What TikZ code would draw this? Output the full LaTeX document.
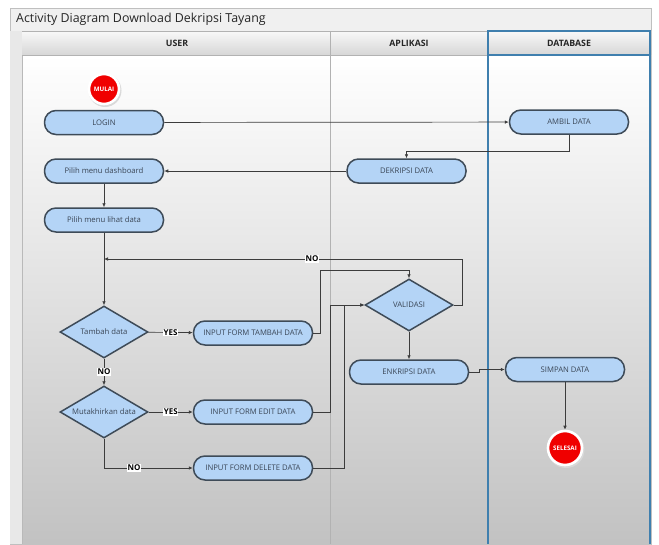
\documentclass[tikz,border=0pt]{standalone}
\usepackage{fontspec}
\setmainfont{Open Sans}
\usetikzlibrary{shapes.geometric,arrows.meta}

\definecolor{nodefill}{HTML}{B4D4F6}
\definecolor{nodeline}{HTML}{3E4B58}
\definecolor{txtc}{HTML}{3A4656}
\definecolor{wire}{HTML}{3C3C3C}
\definecolor{laneblue}{HTML}{3F7FAE}
\definecolor{redc}{HTML}{F00000}

\tikzset{
  act/.style={rectangle, rounded corners=11.5pt, draw=nodeline, line width=1.5pt,
    fill=nodefill, minimum width=119pt, minimum height=24pt, inner sep=1pt,
    font=\fontsize{7.7}{8}\selectfont, text=txtc},
  dec/.style={diamond, draw=nodeline, line width=1.5pt, fill=nodefill,
    minimum width=88pt, minimum height=52pt, inner sep=0pt, aspect=1.7,
    font=\fontsize{7.7}{8}\selectfont, text=txtc},
  term/.style={circle, fill=redc, draw=white, line width=2.6pt, inner sep=0pt,
    text=white, font=\bfseries\fontsize{6.2}{7}\selectfont},
  arr/.style={draw=wire, line width=0.7pt, -{Latex[length=4pt,width=3.6pt]}},
  lbl/.style={fill=white, inner sep=0.6pt, text=black, font=\bfseries\fontsize{8}{9}\selectfont},
  lanehead/.style={font=\bfseries\fontsize{8.8}{9}\selectfont, text=black!85},
}

\begin{document}
\begin{tikzpicture}[x=1pt,y=-1pt]
\useasboundingbox (0,0) rectangle (659,544);
\fill[white] (0,0) rectangle (659,544);

% window frame and title bar
\fill[gray!12] (10,8) rectangle (651,31);
\draw[gray!50, line width=0.6pt] (10,8) rectangle (651,544);
\node[anchor=west, font=\fontsize{12.4}{14}\selectfont, text=black!85, inner sep=0pt] (title) at (16,19.5) {Activity Diagram Download Dekripsi Tayang};

% lane bodies with vertical gradient
\shade[top color=white, bottom color=gray!48] (22,55) rectangle (651,544);
% left strip
\fill[gray!18] (10,31) rectangle (22,544);
\draw[gray!55, line width=0.5pt] (22,31) -- (22,544);

% lane headers
\shade[top color=gray!5, bottom color=gray!32] (22,31) rectangle (651,55);
\draw[gray!60, line width=0.6pt] (22,31) -- (651,31);
\draw[gray!60, line width=0.6pt] (22,55) -- (488,55);
\draw[gray!60, line width=0.6pt] (330,31) -- (330,544);
\draw[laneblue, line width=1.1pt] (488,31) rectangle (650,55);
\draw[laneblue, line width=1.1pt] (488,55) -- (488,544);
\draw[laneblue, line width=1.1pt] (650,55) -- (650,544);

\node[lanehead] (hUser) at (177,43) {USER};
\node[lanehead] (hApp) at (409,43) {APLIKASI};
\node[lanehead] (hDb) at (569,43) {DATABASE};

% activities
\fill[black!15] (105,90.5) circle (16.5);
\node[term, minimum size=30pt] (mulai) at (104,89) {MULAI};
\node[act] (login) at (104,122.5) {LOGIN};
\node[act] (ambil) at (569,122) {AMBIL DATA};
\node[act] (dekripsi) at (406.5,171) {DEKRIPSI DATA};
\node[act] (dash) at (104,171) {Pilih menu dashboard};
\node[act] (lihat) at (104,220) {Pilih menu lihat data};
\node[dec] (tambah) at (104,332) {Tambah data};
\node[act] (inTambah) at (253,333) {INPUT FORM TAMBAH DATA};
\node[dec] (mutakhir) at (104,412) {Mutakhirkan data};
\node[act] (inEdit) at (253,412) {INPUT FORM EDIT DATA};
\node[act] (inDelete) at (253,468) {INPUT FORM DELETE DATA};
\node[dec] (valid) at (409,305) {VALIDASI};
\node[act] (enkripsi) at (409,372) {ENKRIPSI DATA};
\node[act] (simpan) at (565,369.5) {SIMPAN DATA};
\fill[black!15] (566,449.5) circle (18.5);
\node[term, minimum size=34pt] (selesai) at (565,448) {SELESAI};

\coordinate (join) at (104,259);

% flows
\draw[arr] (login) -- (ambil);
\draw[arr] (ambil.south) -- ++(0,17) -| (dekripsi.north);
\draw[arr] (dekripsi) -- (dash);
\draw[arr] (dash) -- (lihat);
\draw[arr] (lihat) -- (tambah);
\draw[arr] (tambah) -- node[lbl] {YES} (inTambah);
\draw[arr] (tambah) -- node[lbl] {NO} (mutakhir);
\draw[arr] (mutakhir) -- node[lbl] {YES} (inEdit);
\draw[arr] (mutakhir.south) |- node[lbl, pos=0.67] {NO} (inDelete);
\draw[arr] (inTambah.east) -- ++(7,0) |- ([yshift=8pt]valid.north) -- (valid.north);
\draw[arr] (inEdit.east) -- ++(17,0) |- (valid.west);
\draw[arr] (inDelete.east) -- ++(31,0) |- (valid.west);
\draw[arr] (valid.east) -- ++(9,0) |- node[lbl, pos=0.71] {NO} (join);
\draw[arr] (valid) -- (enkripsi);
\draw[arr] (enkripsi.east) -- ++(10,0) |- (simpan.west);
\draw[arr] (simpan) -- (selesai);
\end{tikzpicture}
\end{document}
